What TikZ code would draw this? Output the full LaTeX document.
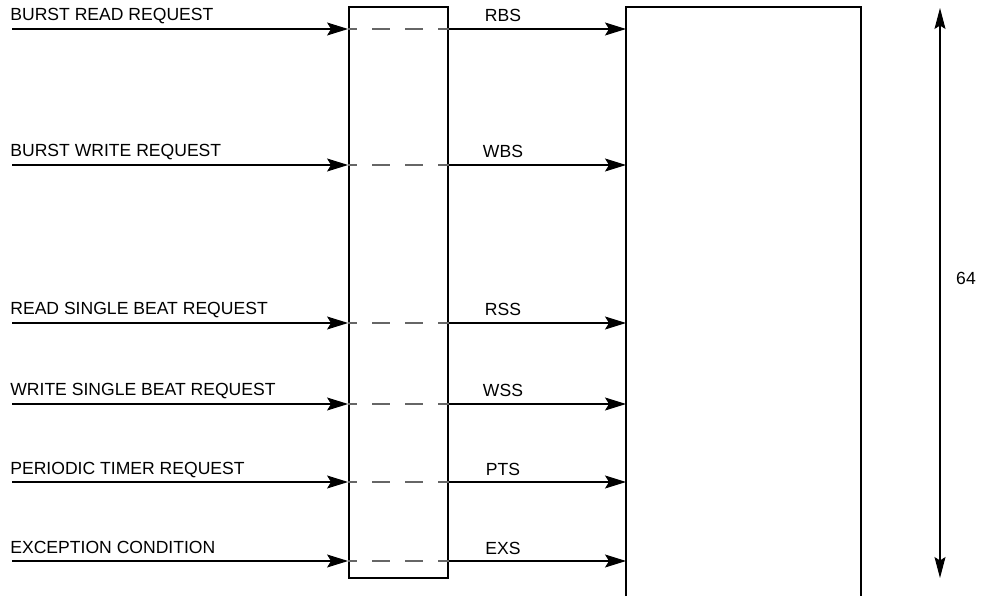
\documentclass[tikz,border=0pt]{standalone}
\usepackage{fontspec}
\setmainfont{Liberation Sans}
\usepackage{tikz}
\usetikzlibrary{arrows.meta,positioning,calc}
\tikzset{
  reqlabel/.style={anchor=base west,inner sep=0pt,font=\fontsize{10pt}{12pt}\selectfont},
  siglabel/.style={anchor=base,inner sep=0pt,font=\fontsize{10pt}{12pt}\selectfont},
  bufbox/.style={draw,line width=1.1pt,minimum width=1.98cm,minimum height=11.42cm,inner sep=0pt},
  memline/.style={draw,line width=1.1pt},
  sigarrow/.style={-{Stealth[length=0.42cm,width=0.26cm,inset=0.08cm]},line width=0.6pt},
  passline/.style={black!60,line width=0.6pt,dash pattern=on 0.36cm off 0.3cm,dash phase=0.18cm},
  sizearrow/.style={{Stealth[length=0.42cm,width=0.22cm,inset=0.07cm]}-{Stealth[length=0.42cm,width=0.22cm,inset=0.07cm]},line width=0.6pt}
}
\begin{document}
\begin{tikzpicture}[x=0.02cm,y=0.02cm]
\useasboundingbox (0,0) rectangle (985,596);
% synchroniser block and memory
\node[bufbox] (buf) at (398.5,303.5) {};
\draw[memline] (626,0) |- (861,589) -- (861,0);
\coordinate (mem) at (626,300);
% request inputs
\coordinate (src1) at (12,567);\coordinate (src2) at (12,431);
\coordinate (src3) at (12,273);\coordinate (src4) at (12,192);
\coordinate (src5) at (12,114);\coordinate (src6) at (12,35);
\node[reqlabel] (req1) at (10,575) {BURST READ REQUEST};
\node[reqlabel] (req2) at (10,439) {BURST WRITE REQUEST};
\node[reqlabel] (req3) at (10,281) {READ SINGLE BEAT REQUEST};
\node[reqlabel] (req4) at (10,200) {WRITE SINGLE BEAT REQUEST};
\node[reqlabel] (req5) at (10,122) {PERIODIC TIMER REQUEST};
\node[reqlabel] (req6) at (10,43) {EXCEPTION CONDITION};
\node[siglabel] (sig1) at (503,574) {RBS};
\node[siglabel] (sig2) at (503,438) {WBS};
\node[siglabel] (sig3) at (503,280) {RSS};
\node[siglabel] (sig4) at (503,199) {WSS};
\node[siglabel] (sig5) at (503,121) {PTS};
\node[siglabel] (sig6) at (503,42) {EXS};
% arrows through the block
\draw[sigarrow] (src1) -- (buf.west |- src1);\draw[passline] (buf.west |- src1) -- (buf.east |- src1);\draw[sigarrow] (buf.east |- src1) -- (mem |- src1);
\draw[sigarrow] (src2) -- (buf.west |- src2);\draw[passline] (buf.west |- src2) -- (buf.east |- src2);\draw[sigarrow] (buf.east |- src2) -- (mem |- src2);
\draw[sigarrow] (src3) -- (buf.west |- src3);\draw[passline] (buf.west |- src3) -- (buf.east |- src3);\draw[sigarrow] (buf.east |- src3) -- (mem |- src3);
\draw[sigarrow] (src4) -- (buf.west |- src4);\draw[passline] (buf.west |- src4) -- (buf.east |- src4);\draw[sigarrow] (buf.east |- src4) -- (mem |- src4);
\draw[sigarrow] (src5) -- (buf.west |- src5);\draw[passline] (buf.west |- src5) -- (buf.east |- src5);\draw[sigarrow] (buf.east |- src5) -- (mem |- src5);
\draw[sigarrow] (src6) -- (buf.west |- src6);\draw[passline] (buf.west |- src6) -- (buf.east |- src6);\draw[sigarrow] (buf.east |- src6) -- (mem |- src6);
% width marker
\coordinate (top) at (940,588);\coordinate (bot) at (940,18);
\draw[sizearrow] (bot) -- (top);
\node[siglabel,anchor=center] (width) at (966,318) {64};
\end{tikzpicture}
\end{document}
